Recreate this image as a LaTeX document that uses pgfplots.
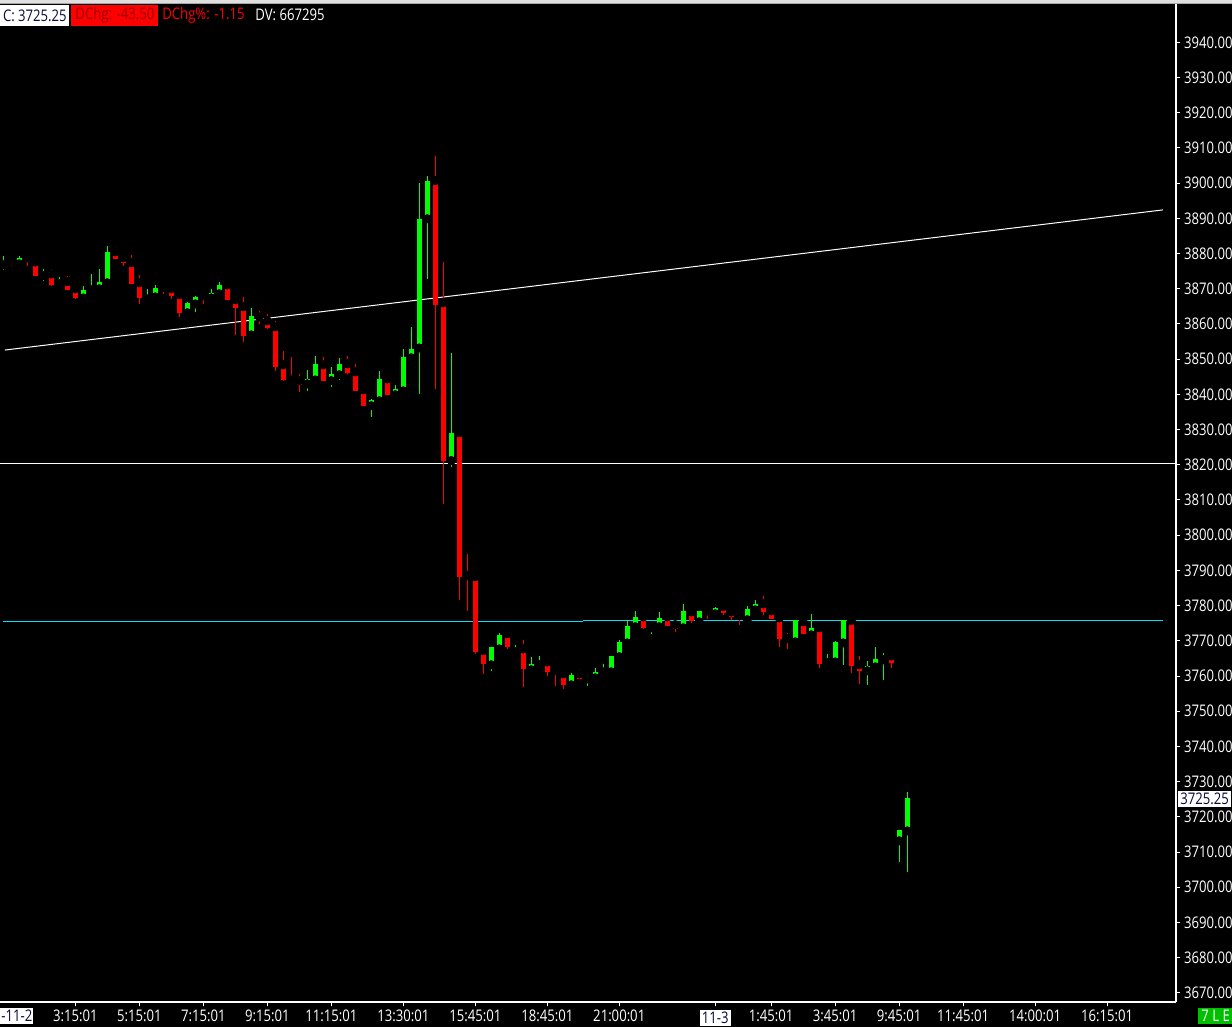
\documentclass[border=0pt]{standalone}
\usepackage{pgfplots}
\usepackage{pgfplotstable}
\pgfplotsset{compat=1.18}
\usepackage{fontspec}
\setmainfont{Open Sans}[FakeStretch=0.82]

\definecolor{cgreen}{RGB}{0,255,0}
\definecolor{cred}{RGB}{255,0,0}
\definecolor{ccyan}{RGB}{0,225,245}
\definecolor{darkred}{RGB}{150,0,0}
\definecolor{navy}{RGB}{10,10,60}
\definecolor{lgreen}{RGB}{0,190,0}
\newcommand\labfont{\fontsize{8pt}{9pt}\selectfont}

% 15 minute bars: k open high low close
\pgfplotstableread{
k o h l c
0 3876.8 3879.4 3875.4 3877.6
2 3877.1 3879.2 3876.3 3878.8
5 3873.7 3875.7 3872.3 3874.3
7 3871.4 3873.4 3870.4 3872.3
10 3867.4 3870.8 3867.4 3869.7
11 3869.7 3874.2 3869.7 3870.3
12 3870.0 3875.7 3869.7 3872.0
13 3871.7 3882.2 3871.4 3880.5
18 3867.1 3870.0 3866.9 3868.0
19 3867.7 3871.1 3867.7 3870.3
23 3863.2 3866.3 3862.0 3866.0
24 3865.7 3868.0 3863.4 3867.7
26 3867.4 3870.0 3867.1 3868.8
27 3868.6 3872.0 3868.3 3871.1
31 3856.9 3864.6 3856.1 3862.3
38 3843.0 3847.0 3841.0 3844.4
39 3844.1 3851.0 3843.9 3848.7
41 3843.9 3847.8 3842.2 3845.8
42 3845.6 3850.4 3844.1 3848.7
46 3836.8 3838.7 3833.6 3838.5
47 3838.2 3846.7 3838.2 3844.4
49 3839.9 3842.7 3839.6 3841.6
50 3841.0 3853.0 3840.2 3850.7
51 3850.4 3859.2 3850.4 3853.0
52 3853.2 3900.1 3840.2 3889.9
53 3889.9 3902.1 3872.8 3900.7
56 3821.2 3851.8 3819.5 3829.1
61 3763.2 3768.3 3761.5 3768.3
62 3767.7 3772.3 3767.5 3771.7
64 3766.9 3768.9 3766.9 3767.5
66 3761.8 3765.5 3761.5 3763.5
67 3763.2 3765.8 3763.2 3764.0
71 3757.5 3760.9 3757.2 3760.4
73 3759.2 3760.6 3757.2 3759.8
74 3759.5 3762.3 3759.5 3761.2
75 3761.2 3763.5 3760.6 3761.8
76 3761.2 3765.8 3761.2 3765.8
77 3765.5 3770.3 3764.6 3769.7
78 3769.4 3775.7 3768.6 3774.3
79 3774.0 3778.5 3773.7 3776.8
81 3773.7 3775.1 3772.0 3774.3
82 3774.0 3778.2 3774.0 3776.5
85 3773.7 3780.5 3773.7 3778.5
87 3775.4 3778.5 3775.1 3778.5
89 3777.7 3779.7 3777.7 3779.4
93 3776.0 3780.0 3776.0 3779.1
94 3778.8 3781.7 3778.3 3780.5
99 3769.7 3776.0 3769.7 3776.0
101 3771.7 3777.7 3771.1 3773.7
103 3763.8 3766.3 3762.6 3764.6
104 3764.0 3770.0 3762.9 3769.7
105 3769.4 3776.0 3763.2 3776.0
108 3761.5 3764.3 3757.5 3762.9
109 3762.6 3768.3 3762.3 3764.9
110 3764.6 3766.6 3758.9 3765.7
112 3713.2 3716.3 3707.3 3716.3
113 3716.0 3727.1 3704.4 3725.25
}\upbars

\pgfplotstableread{
k o h l c
1 3877.9 3879.0 3876.5 3877.1
3 3878.8 3879.6 3876.5 3877.7
4 3877.6 3878.2 3873.5 3873.7
6 3874.2 3875.7 3870.8 3871.1
8 3872.0 3873.7 3869.7 3869.7
9 3870.0 3870.0 3867.1 3867.4
14 3880.5 3881.9 3878.5 3878.5
15 3878.8 3879.6 3876.5 3877.4
16 3877.4 3879.6 3871.4 3871.4
17 3871.7 3874.0 3865.7 3867.4
20 3870.3 3871.1 3868.6 3869.7
21 3870.0 3871.1 3867.1 3868.0
22 3868.3 3869.7 3862.0 3863.2
25 3868.0 3869.1 3865.7 3867.4
28 3871.1 3872.3 3866.9 3866.9
29 3866.9 3867.7 3856.9 3864.6
30 3864.9 3867.7 3854.9 3856.6
32 3862.0 3863.7 3860.0 3860.9
33 3860.9 3862.9 3858.6 3858.9
34 3859.2 3860.9 3846.7 3847.8
35 3848.4 3852.4 3843.8 3844.1
36 3844.1 3850.7 3843.3 3843.6
37 3843.9 3845.8 3840.7 3842.7
40 3848.4 3850.7 3843.9 3843.9
43 3848.7 3851.0 3845.8 3846.1
44 3846.4 3848.7 3841.0 3841.0
45 3841.3 3842.2 3836.8 3836.8
48 3844.4 3844.7 3839.9 3839.9
54 3900.7 3907.7 3841.6 3865.5
55 3866.0 3877.7 3808.9 3821.2
57 3829.1 3830.0 3781.7 3788.2
58 3788.5 3794.7 3778.5 3788.1
59 3788.2 3788.5 3766.3 3766.9
60 3767.2 3768.3 3760.6 3763.5
63 3772.0 3772.9 3767.7 3768.3
65 3767.7 3770.3 3757.0 3762.1
68 3764.0 3765.2 3760.1 3761.2
69 3761.5 3762.1 3757.2 3760.6
70 3760.6 3760.6 3756.4 3757.5
72 3760.6 3762.1 3759.2 3759.2
80 3776.8 3777.7 3773.4 3773.7
83 3776.8 3777.1 3774.3 3774.3
84 3774.6 3775.1 3772.6 3773.4
86 3778.2 3778.5 3775.1 3775.7
88 3778.5 3778.5 3776.3 3777.4
90 3779.7 3780.2 3777.4 3778.0
91 3778.2 3779.4 3776.0 3776.8
92 3777.1 3777.7 3774.6 3776.0
95 3780.5 3782.8 3777.4 3778.3
96 3778.5 3779.7 3776.3 3776.3
97 3776.5 3777.4 3768.3 3770.6
98 3770.6 3772.3 3767.7 3769.7
100 3775.4 3776.3 3772.0 3772.0
102 3773.7 3774.3 3762.3 3763.5
106 3775.7 3776.3 3760.9 3762.9
107 3763.2 3765.7 3757.8 3761.5
111 3765.7 3766.0 3762.3 3763.8
}\downbars

\begin{document}
\begin{tikzpicture}
\path[use as bounding box, fill=black] (0,0) rectangle (616pt,513.5pt);
\fill[gray!25] (0,511.5pt) rectangle (616pt,513.5pt);
\begin{axis}[
    at={(0pt,12.5pt)}, anchor=south west,
    scale only axis, width=588pt, height=499pt,
    xmin=-0.41, xmax=146.6,
    ymin=3667.4, ymax=3950.9,
    axis x line*=bottom, axis y line*=right,
    axis line style={white, line width=0.6pt},
    tick align=outside, major tick length=2pt,
    tick style={white, line width=0.5pt},
    ytick={3670,3680,...,3940},
    yticklabel style={text=white, font=\labfont, xshift=-1.5pt,
        /pgf/number format/.cd, fixed, fixed zerofill, precision=2,
        1000 sep={}, assume math mode=true},
    xtick={9,17,25,33,41,50,59,68,77,89,96,104,112,120,129,138},
    xticklabels={3:15:01,5:15:01,7:15:01,9:15:01,11:15:01,13:30:01,
        15:45:01,18:45:01,21:00:01,
        {\setlength{\fboxsep}{1pt}\colorbox{white}{\textcolor{navy}{11-3}}},
        1:45:01,3:45:01,9:45:01,11:45:01,14:00:01,16:15:01},
    xticklabel style={text=white, font=\labfont, yshift=1.5pt},
]
% trend and level lines
\addplot[white, line width=0.5pt] coordinates {(0.21,3852.6) (144.95,3892.4)};
\addplot[white, line width=0.5pt] coordinates {(-0.41,3820.5) (146.6,3820.5)};
\addplot[ccyan, line width=0.5pt] coordinates {(0,3775.57) (72.46,3775.57)};
\addplot[ccyan, line width=0.5pt] coordinates {(72.46,3775.85) (144.96,3775.85)};
% wicks
\addplot[only marks, mark=none, error bars/.cd, y dir=both, y explicit, error mark=none,
    error bar style={cgreen, line width=0.5pt}]
    table[x=k, y=o, y error plus expr=\thisrow{h}-\thisrow{o},
          y error minus expr=\thisrow{o}-\thisrow{l}] {\upbars};
\addplot[only marks, mark=none, error bars/.cd, y dir=both, y explicit, error mark=none,
    error bar style={cred, line width=0.5pt}]
    table[x=k, y=o, y error plus expr=\thisrow{h}-\thisrow{o},
          y error minus expr=\thisrow{o}-\thisrow{l}] {\downbars};
% bodies
\addplot[only marks, mark=none, error bars/.cd, y dir=plus, y explicit, error mark=none,
    error bar style={cgreen, line width=2.6pt}]
    table[x=k, y=o, y error expr=\thisrow{c}-\thisrow{o}] {\upbars};
\addplot[only marks, mark=none, error bars/.cd, y dir=minus, y explicit, error mark=none,
    error bar style={cred, line width=2.6pt}]
    table[x=k, y=o, y error expr=\thisrow{o}-\thisrow{c}] {\downbars};
\end{axis}
\draw[gray!70, line width=0.5pt] (0,511.5pt) -- (616pt,511.5pt);
% header
\node[fill=white, text=navy, anchor=north west, inner xsep=1pt, inner ysep=0pt,
    minimum width=34.5pt, minimum height=10.5pt, font=\labfont] at (0,511.2pt) {C: 3725.25};
\node[fill=cred, text=darkred, anchor=north west, inner xsep=1pt, inner ysep=0pt,
    minimum width=43.5pt, minimum height=10.5pt, font=\labfont] at (35.5pt,511.2pt) {DChg: -43.50};
\node[text=cred, anchor=west, inner sep=0pt, font=\labfont] at (81pt,506pt) {DChg\%: -1.15};
\node[text=white, anchor=west, inner sep=0pt, font=\labfont] at (127.5pt,506pt) {DV: 667295};
% last price marker
\node[fill=white, text=navy, anchor=west, inner xsep=1pt, inner ysep=1pt, font=\labfont]
    at (589pt,114pt) {3725.25};
% left date box and status box
\node[fill=white, text=navy, anchor=west, inner xsep=0.5pt, inner ysep=1pt, font=\labfont]
    at (0pt,5.5pt) {-11-2};
\node[fill=lgreen, text=white, anchor=west, inner xsep=1.5pt, inner ysep=1pt, font=\labfont]
    at (599pt,5.5pt) {7 L E};
\end{tikzpicture}
\end{document}
